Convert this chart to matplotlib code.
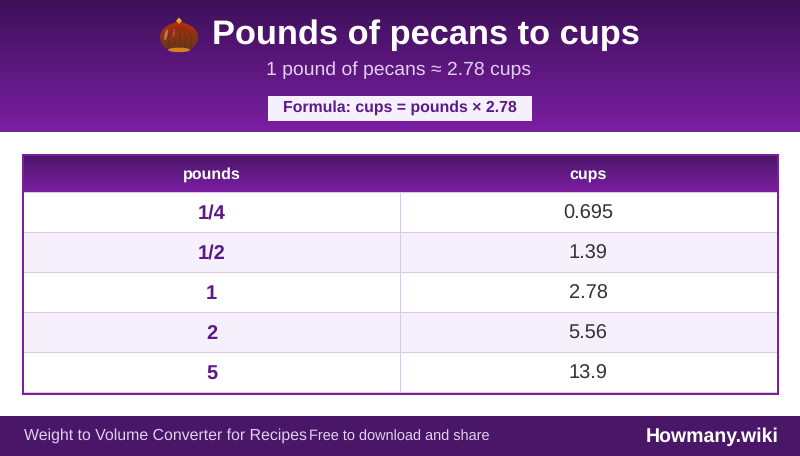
import matplotlib
matplotlib.use('Agg')
import matplotlib.pyplot as plt
from matplotlib.patches import Rectangle, Ellipse, PathPatch, Polygon
from matplotlib.path import Path
import numpy as np

plt.rcParams['font.family'] = ['Liberation Sans', 'DejaVu Sans']
plt.rcParams['text.hinting'] = 'no_hinting'

# data
title = 'Pounds of pecans to cups'
subtitle = '1 pound of pecans ≈ 2.78 cups'
formula = 'Formula: cups = pounds × 2.78'
col_names = ['pounds', 'cups']
pounds = ['1/4', '1/2', '1', '2', '5']
cups = ['0.695', '1.39', '2.78', '5.56', '13.9']
footer_left = 'Weight to Volume Converter for Recipes'
footer_mid = 'Free to download and share'
brand = 'Howmany.wiki'

PURPLE = '#7b1fa2'
DEEP = '#4a1668'
TEXT_PURPLE = '#5b1a8b'
ROW_ALT = '#f5f0fb'
GRID = '#dcc8ea'

fig = plt.figure(figsize=(8, 4.561), dpi=100)
ax = fig.add_axes([0, 0, 1, 1])
ax.axis('off')


def gradient(x0, y0, x1, y1, top, bottom, z=1):
    c0 = np.array(matplotlib.colors.to_rgb(top))
    c1 = np.array(matplotlib.colors.to_rgb(bottom))
    t = np.linspace(0, 1, 128)[:, None, None]
    img = c0[None, None, :] * (1 - t) + c1[None, None, :] * t
    return ax.imshow(img, extent=(x0, x1, y1, y0), aspect='auto', zorder=z,
                     interpolation='bilinear')


# header band
gradient(0, 0, 800, 132, '#3c1058', PURPLE)

# chestnut icon
cx = 179
body = Path(
    [(cx, 21), (cx - 8, 24), (cx - 19, 27), (cx - 19, 37), (cx - 19, 47), (cx - 10, 52), (cx, 52),
     (cx + 10, 52), (cx + 19, 47), (cx + 19, 37), (cx + 19, 27), (cx + 8, 24), (cx, 21)],
    [Path.MOVETO] + [Path.CURVE4] * 12)
shell = gradient(cx - 19, 21, cx + 19, 52, '#b82e0c', '#5c3a1c', z=3)
shell.set_clip_path(PathPatch(body, transform=ax.transData))
for dx in [-11, -5, 1, 7, 13]:
    ax.plot([cx + dx * 0.35, cx + dx, cx + dx * 0.85], [27, 37, 47], color='#5e2110', lw=0.9,
            solid_capstyle='round', alpha=.4, zorder=4)
ax.add_patch(Ellipse((cx - 13, 35), 3, 11, angle=12, fc='#d07a66', ec='none', alpha=.85, zorder=4))
ax.add_patch(Ellipse((cx - 5, 33), 2, 9, angle=5, fc='#d07a66', ec='none', alpha=.5, zorder=4))
ax.add_patch(Ellipse((cx, 50), 22, 4.5, fc='#d9801c', ec='none', zorder=5))
ax.add_patch(Polygon([(cx, 17.5), (cx + 3, 21), (cx, 24), (cx - 3, 21)], fc='#eaa828', ec='none', zorder=5))

ax.text(426, 35.5, title, ha='center', va='center', color='white', fontsize=24.75, fontweight='bold', zorder=5)
ax.text(399, 70.5, subtitle, ha='center', va='center', color='#e1cfee', fontsize=13.95, zorder=5)
ax.add_patch(Rectangle((268, 96), 264, 25, fc=ROW_ALT, ec='none', zorder=4))
ax.text(400, 108, formula, ha='center', va='center', color=TEXT_PURPLE, fontsize=11.4, fontweight='bold', zorder=5)

# table
left, right, top, bottom = 24, 777, 156, 393
split = 400
head_h = 37
row_h = (bottom - top - head_h) / len(pounds)
gradient(left, top, right, top + head_h - 1, DEEP, PURPLE, z=2)
ax.add_patch(Rectangle((left, top + head_h - 1), right - left, 1, fc=GRID, ec='none', zorder=3))
for name, xc in zip(col_names, [(left + split) / 2 - 0.5, (split + right) / 2 - 0.5]):
    ax.text(xc, top + 19, name, ha='center', va='center', color='white',
            fontsize=11.5, fontweight='bold', zorder=5)

for i, (p, c) in enumerate(zip(pounds, cups)):
    y = top + head_h + i * row_h
    ax.add_patch(Rectangle((left, y), right - left, row_h, fc=ROW_ALT if i % 2 else 'white', ec='none', zorder=2))
    ax.add_patch(Rectangle((left, y + row_h - 1), right - left, 1, fc=GRID, ec='none', zorder=3))
    ax.text((left + split) / 2 - 0.5, y + row_h / 2 + 0.5, p, ha='center', va='center', color=TEXT_PURPLE,
            fontsize=14.4, fontweight='bold', zorder=5)
    ax.text((split + right) / 2 - 0.5, y + row_h / 2 + 0.5, c, ha='center', va='center', color='#333333',
            fontsize=14.4, zorder=5)
ax.add_patch(Rectangle((split, top + head_h), 1, bottom - top - head_h, fc=GRID, ec='none', zorder=3))
ax.add_patch(Rectangle((23, 155), 755, 239, fc='none', ec=PURPLE, lw=1.44, zorder=6))

# footer
ax.add_patch(Rectangle((0, 416), 800, 40, fc=DEEP, ec='none', zorder=2))
ax.text(24, 435.5, footer_left, ha='left', va='center', color='#e1cfee', fontsize=11.45, zorder=5)
ax.text(309, 437, footer_mid, ha='left', va='center', color='#e1cfee', fontsize=10.45, zorder=5)
ax.text(778.5, 436.5, brand, ha='right', va='center', color='white', fontsize=14.05, fontweight='bold', zorder=5)

ax.set_xlim(0, 800)
ax.set_ylim(456, 0)
fig.savefig('out.png', dpi=100)
